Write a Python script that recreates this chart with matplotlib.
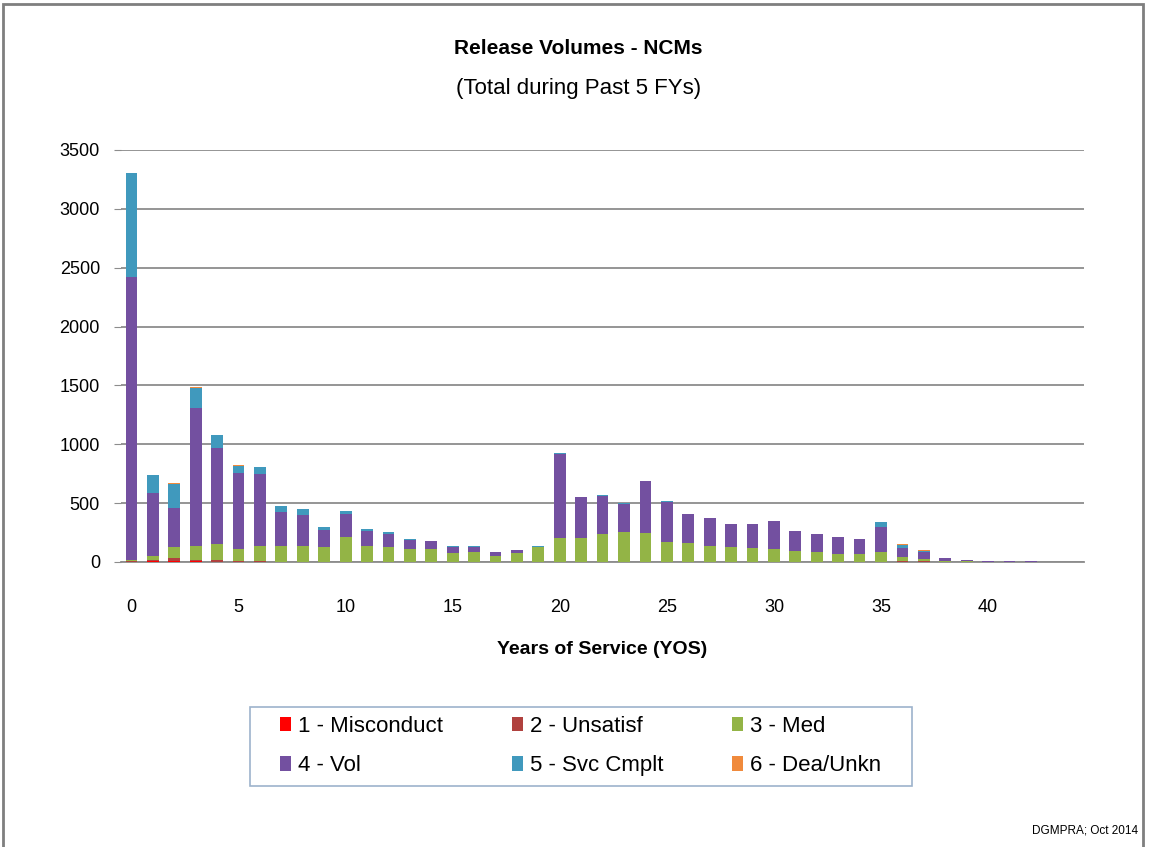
import matplotlib
matplotlib.use("Agg")
import matplotlib.pyplot as plt
from matplotlib.patches import Rectangle, Patch
import numpy as np

plt.rcParams['font.family'] = ['Liberation Sans', 'DejaVu Sans']

# years of service 0..44
yos = list(range(45))
misconduct = [2, 5, 8, 5, 3, 2, 2, 1, 1, 1, 1, 1, 1, 0, 0, 0, 0, 0, 0, 0,
              0, 0, 0, 0, 0, 0, 0, 0, 0, 0, 0, 0, 0, 0, 0, 0, 2, 2, 0, 0,
              0, 0, 0, 0, 1]
unsatisf = [10, 15, 22, 12, 10, 5, 4, 3, 3, 2, 2, 2, 2, 1, 1, 1, 1, 1, 1, 1,
            2, 2, 2, 2, 2, 2, 1, 1, 1, 1, 1, 1, 1, 1, 1, 2, 10, 5, 2, 2,
            1, 1, 1, 1, 1]
med = [5, 35, 100, 120, 137, 100, 130, 132, 132, 122, 205, 133, 127, 112, 106, 78, 84, 53, 78, 125,
       204, 204, 233, 250, 247, 168, 158, 135, 129, 120, 109, 95, 86, 67, 67, 83, 33, 15, 5, 3,
       2, 1, 1, 0, 0]
vol = [2405, 528, 326, 1168, 815, 646, 609, 291, 263, 147, 197, 129, 110, 72, 68, 49, 43, 28, 22, 5,
       712, 344, 327, 243, 435, 342, 248, 236, 191, 202, 236, 165, 151, 145, 123, 215, 72, 61, 23, 13,
       4, 5, 3, 1, 0]
svc = [878, 156, 206, 170, 113, 65, 62, 51, 48, 28, 28, 12, 12, 8, 6, 5, 5, 3, 3, 2,
       5, 4, 4, 3, 4, 6, 3, 2, 2, 2, 2, 2, 2, 2, 2, 37, 30, 12, 5, 2,
       1, 1, 1, 0, 0]
dea = [5, 3, 5, 12, 3, 2, 2, 0, 0, 0, 0, 0, 0, 0, 0, 0, 0, 0, 0, 0,
       0, 0, 0, 0, 0, 0, 0, 0, 0, 0, 0, 0, 0, 0, 0, 0, 3, 4, 0, 0,
       0, 0, 0, 0, 0]

labels = ['1 - Misconduct', '2 - Unsatisf', '3 - Med', '4 - Vol', '5 - Svc Cmplt', '6 - Dea/Unkn']
colors = ['#FF0000', '#B0413E', '#93B446', '#7350A0', '#4099BD', '#F08A3C']
series = [misconduct, unsatisf, med, vol, svc, dea]

fig = plt.figure(figsize=(11.5, 8.47), dpi=100)
ax = fig.add_axes([0.105, 0.3365, 0.838, 0.4865])

bottom = np.zeros(len(yos))
for vals, c, lab in zip(series, colors, labels):
    ax.bar(yos, vals, width=0.55, bottom=bottom, color=c, label=lab, zorder=3)
    bottom += np.array(vals)

ax.set_xlim(-0.5, 44.5)
ax.set_ylim(0, 3500)
ax.set_yticks(range(0, 3501, 500))
ax.set_xticks(range(0, 41, 5))
ax.yaxis.grid(True, color='#8C8C8C', lw=1.3, zorder=0)
for s in ['top', 'right', 'left']:
    ax.spines[s].set_visible(False)
ax.spines['bottom'].set_color('#8C8C8C')
ax.spines['bottom'].set_linewidth(1.3)
ax.tick_params(axis='y', length=5, color='#8C8C8C', labelsize=13, pad=10)
ax.tick_params(axis='x', length=0, labelsize=13, pad=27)

ax.set_xlabel('Years of Service (YOS)', fontsize=14, fontweight='bold', labelpad=18)

fig.text(0.503, 0.943, 'Release Volumes - NCMs', ha='center', va='center',
         fontsize=15, fontweight='bold')
fig.text(0.503, 0.896, '(Total during Past 5 FYs)', ha='center', va='center', fontsize=16)

handles = [Patch(facecolor=c, label=l) for c, l in zip(colors, labels)]
order = [0, 3, 1, 4, 2, 5]
leg = fig.legend([handles[i] for i in order], [labels[i] for i in order],
                 loc='center', bbox_to_anchor=(0.505, 0.119), ncol=3,
                 fontsize=16, frameon=False,
                 handlelength=0.5, handleheight=0.6, handletextpad=0.3,
                 columnspacing=3.1, labelspacing=0.82, borderpad=0, borderaxespad=0)
# legend frame drawn separately (wider side padding than top/bottom)
fig.add_artist(Rectangle((250 / 1150, 1 - 786 / 847), 662 / 1150, 79 / 847,
                         transform=fig.transFigure, fill=False,
                         edgecolor='#9DB3CC', lw=1.2))

fig.text(0.99, 0.02, 'DGMPRA; Oct 2014', ha='right', va='center', fontsize=8.5)

fig.add_artist(Rectangle((0.003, -0.01), 0.991, 1.005, transform=fig.transFigure,
                         fill=False, edgecolor='#7F7F7F', lw=2))

fig.savefig('out.png', dpi=100)
